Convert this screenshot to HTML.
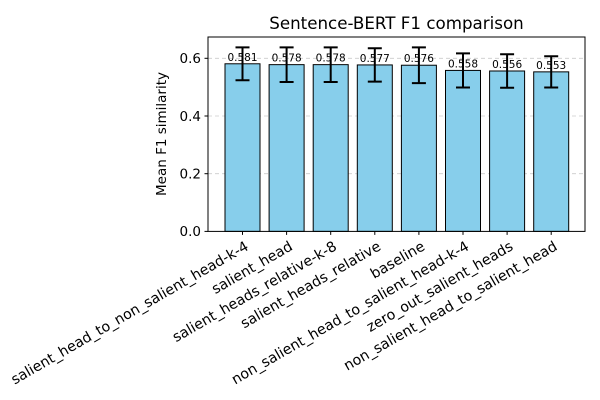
<!DOCTYPE html>
<html><head><meta charset="utf-8"><style>
html,body{margin:0;padding:0;background:#fff;}
svg{display:block;font-family:"DejaVu Sans","Liberation Sans",sans-serif;}
</style></head><body>
<svg id="chart" width="600" height="400" viewBox="0 0 600 400" xmlns="http://www.w3.org/2000/svg">
<rect x="0" y="0" width="600" height="400" fill="#fff"/>
<text x="396.5" y="29" font-size="16.7" text-anchor="middle">Sentence-BERT F1 comparison</text>
<text transform="translate(166,134) rotate(-90)" font-size="13.5" text-anchor="middle">Mean F1 similarity</text>
<g id="grid"></g><g id="bars"></g><g id="errs"></g><g id="yticks"></g><g id="xticks"></g>
<rect x="208" y="37" width="377" height="194.4" fill="none" stroke="#000" stroke-width="1"/>
</svg>
<script>
const categories = ["salient_head_to_non_salient_head-k-4","salient_head","salient_heads_relative-k-8","salient_heads_relative","baseline","non_salient_head_to_salient_head-k-4","zero_out_salient_heads","non_salient_head_to_salient_head"];
const values = [0.581,0.578,0.578,0.577,0.576,0.558,0.556,0.553];
const errors = [0.057,0.060,0.060,0.058,0.062,0.059,0.058,0.054];
const yTicks = [0.0,0.2,0.4,0.6];
const yTickLabels = ["0.0","0.2","0.4","0.6"];
const NS="http://www.w3.org/2000/svg";
const y0=231.4, pxPerUnit=288.5;
function yScale(v){return y0-v*pxPerUnit;}
function xScale(i){return 242.5+i*44.1;}
function mk(tag,attrs,parent){const e=document.createElementNS(NS,tag);for(const k in attrs)e.setAttribute(k,attrs[k]);document.getElementById(parent).appendChild(e);return e;}
yTicks.forEach((t,i)=>{
  const y=yScale(t);
  if(t>0){const g=mk('line',{x1:208,x2:585,y1:y,y2:y,stroke:'#ccc','stroke-dasharray':'4,3','stroke-width':0.8},'grid');
  
  }
  const tk=mk('line',{x1:204.5,x2:208,y1:y,y2:y,stroke:'#000'},'yticks');
  
  
  const tl=mk('text',{x:201,y:y+4.8,'font-size':13.5,'text-anchor':'end'},'yticks');
  tl.textContent=yTickLabels[i];
  
  
});
values.forEach((v,i)=>{
  const cx=xScale(i), w=35;
  const b=mk('rect',{x:cx-w/2,y:yScale(v),width:w,height:y0-yScale(v),fill:'#87ceeb',stroke:'#000','stroke-width':1},'bars');
  
  
  const top=yScale(v+errors[i]), bot=yScale(v-errors[i]);
  const e=mk('path',{d:`M${cx},${top}V${bot}M${cx-7},${top}H${cx+7}M${cx-7},${bot}H${cx+7}`,stroke:'#000','stroke-width':2,fill:'none'},'errs');
  
  
  const vl=mk('text',{x:cx,y:yScale(v)-3,'font-size':10.5,'text-anchor':'middle'},'errs');
  vl.textContent=v.toFixed(3);
  
  
  const tk=mk('line',{x1:cx,x2:cx,y1:y0,y2:y0+3.5,stroke:'#000'},'xticks');
  
  
  const tl=mk('text',{transform:`translate(${cx+2},${y0+9}) rotate(-30)`,'font-size':14.3,'text-anchor':'end',dy:'0.7em'},'xticks');
  tl.textContent=categories[i];
  
  
});
</script>
</body></html>
